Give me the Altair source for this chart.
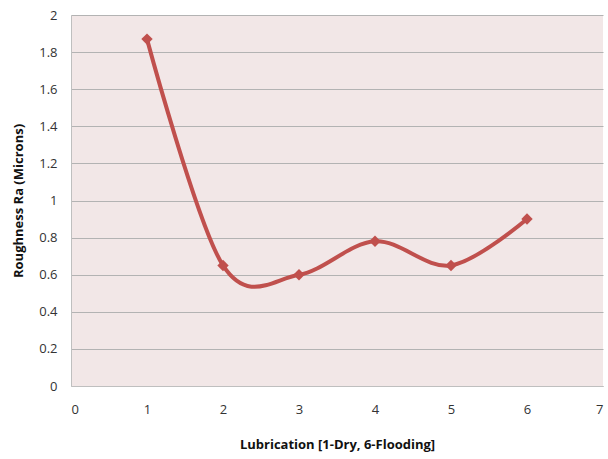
import altair as alt
import pandas as pd

lubrication = [1, 2, 3, 4, 5, 6]
roughness = [1.87, 0.65, 0.60, 0.78, 0.65, 0.90]
y_ticks = [0, 0.2, 0.4, 0.6, 0.8, 1.0, 1.2, 1.4, 1.6, 1.8, 2.0]
x_ticks = [0, 1, 2, 3, 4, 5, 6, 7]

df = pd.DataFrame({"x": lubrication, "y": roughness})

FONT = "Open Sans"
RED = "#c0504d"

x_enc = alt.X("x:Q", scale=alt.Scale(domain=[0, 7], nice=False),
              axis=alt.Axis(title="Lubrication [1-Dry, 6-Flooding]", values=x_ticks, tickCount=20,
                            format="d", grid=False, ticks=False, labelPadding=17, titlePadding=22,
                            domainColor="#bfbfbf", labelFont=FONT, labelFontSize=13,
                            labelColor="#333333", titleFont=FONT, titleFontSize=13,
                            titleFontWeight="bold", titleColor="#111111", labelOverlap=False))
y_enc = alt.Y("y:Q", scale=alt.Scale(domain=[0, 2], nice=False),
              axis=alt.Axis(title="Roughness Ra (Microns)", values=y_ticks, tickCount=20,
                            format="~g", grid=True, gridColor="#b3b3b3", ticks=False,
                            labelPadding=14, titlePadding=13, domainColor="#bfbfbf",
                            labelFont=FONT, labelFontSize=13, labelColor="#333333",
                            titleFont=FONT, titleFontSize=13, titleFontWeight="bold",
                            titleColor="#111111", labelOverlap=False))

line = alt.Chart(df).mark_line(color=RED, strokeWidth=4, interpolate="cardinal", tension=0).encode(
    x=x_enc, y=y_enc)
pts = alt.Chart(df).mark_point(shape="diamond", filled=True, color=RED, size=130, opacity=1).encode(
    x="x:Q", y="y:Q")

chart = (line + pts).properties(
    width=532, height=371,
    autosize=alt.AutoSizeParams(type="none"),
    padding={"left": 71, "top": 15, "right": 5, "bottom": 73},
    background="white",
).configure_view(fill="#f2e7e7", stroke=None)

chart.save("out.html", embed_options={"renderer": "svg", "actions": False})
